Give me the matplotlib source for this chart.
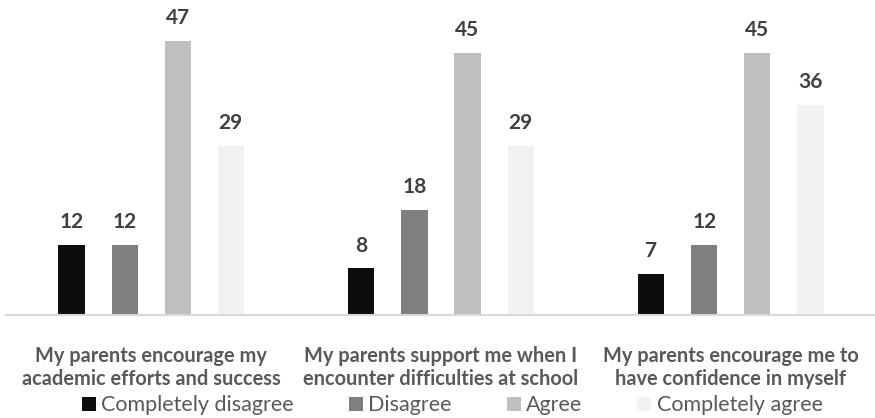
import matplotlib.pyplot as plt
import numpy as np

plt.rcParams['font.family'] = ['Lato', 'DejaVu Sans']

categories = [
    "My parents encourage my\nacademic efforts and success",
    "My parents support me when I\nencounter difficulties at school",
    "My parents encourage me to\nhave confidence in myself",
]
series_names = ["Completely disagree", "Disagree", "Agree", "Completely agree"]
completely_disagree = [12, 8, 7]
disagree = [12, 18, 12]
agree = [47, 45, 45]
completely_agree = [29, 29, 36]

colors = ["#0d0d0d", "#7f7f7f", "#bfbfbf", "#f2f2f2"]
series = [completely_disagree, disagree, agree, completely_agree]

fig = plt.figure(figsize=(8.75, 4.18), dpi=100)
ax = fig.add_axes([0.007, 0.2464, 0.994, 0.6974])

x = np.arange(len(categories))
width = 0.09
step = 0.183
offsets = (np.arange(4) - 1.5) * step

handles = []
for i, vals in enumerate(series):
    bars = ax.bar(x + offsets[i], vals, width, color=colors[i], label=series_names[i])
    handles.append(bars)
    for xi, v in zip(x + offsets[i], vals):
        ax.text(xi, v + 2.2, str(v), ha='center', va='bottom',
                fontsize=15, fontweight='bold', color='#404040')

ax.set_xlim(-0.5, 2.5)
ax.set_ylim(0, 50)
ax.set_yticks([])
ax.set_xticks(x)
ax.set_xticklabels(categories, fontsize=14.4, fontweight='bold', color='#595959',
                   linespacing=1.22)
ax.tick_params(axis='x', length=0, pad=22)
for s in ['top', 'left', 'right']:
    ax.spines[s].set_visible(False)
ax.spines['bottom'].set_color('#d9d9d9')
ax.spines['bottom'].set_linewidth(1.5)

leg = fig.legend(handles=handles, labels=series_names, loc='lower center',
                 bbox_to_anchor=(0.517, -0.04), ncol=4, frameon=False,
                 fontsize=15.5, handlelength=0.65, handleheight=0.65,
                 handletextpad=0.25, columnspacing=2.55)
for t in leg.get_texts():
    t.set_color('#595959')

fig.savefig("out.png", dpi=100)
